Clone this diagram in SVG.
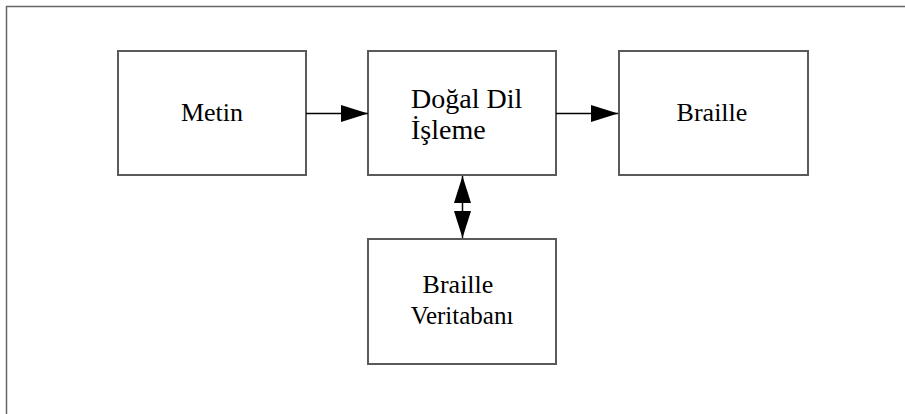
<svg xmlns="http://www.w3.org/2000/svg" width="905" height="414" viewBox="0 0 905 414">
<style>
.box{fill:#fff;stroke:#5a5a5a;stroke-width:2}
.ln{stroke:#000;stroke-width:1.5;fill:none}
</style>
<defs>
<marker id="ah" viewBox="0 0 27 17" refX="27" refY="8.5" markerWidth="27" markerHeight="17" markerUnits="userSpaceOnUse" orient="auto">
<path d="M0,0 L27,8.5 L0,17 Z" fill="#000"/>
</marker>
</defs>
<rect x="0" y="0" width="905" height="414" fill="#fff"/>
<path d="M6.5,420 V6.5 H910" fill="none" stroke="#666" stroke-width="1.5"/>
<g font-family="Liberation Serif, Times New Roman, serif" font-size="26" fill="#000">
<g id="metin">
<rect class="box" x="118" y="51" width="188" height="124"/>
<text x="212" y="121" text-anchor="middle">Metin</text>
</g>
<g id="dogal">
<rect class="box" x="368" y="51" width="188" height="124"/>
<text x="411" y="108" font-size="28">Doğal Dil</text>
<text x="411" y="139" font-size="28">İşleme</text>
</g>
<g id="braille">
<rect class="box" x="619" y="51" width="189" height="124"/>
<text x="712" y="121" text-anchor="middle">Braille</text>
</g>
<g id="veritabani">
<rect class="box" x="368" y="239" width="188" height="125"/>
<text x="458" y="293" text-anchor="middle">Braille</text>
<text x="462" y="324" text-anchor="middle" font-size="25">Veritabanı</text>
</g>
</g>
<g id="connectors">
<line class="ln" x1="306" y1="113.5" x2="368" y2="113.5" marker-end="url(#ah)"/>
<line class="ln" x1="556" y1="113.5" x2="618" y2="113.5" marker-end="url(#ah)"/>
<line class="ln" x1="462.5" y1="207" x2="462.5" y2="176" marker-end="url(#ah)"/>
<line class="ln" x1="462.5" y1="207" x2="462.5" y2="238" marker-end="url(#ah)"/>
</g>
</svg>
